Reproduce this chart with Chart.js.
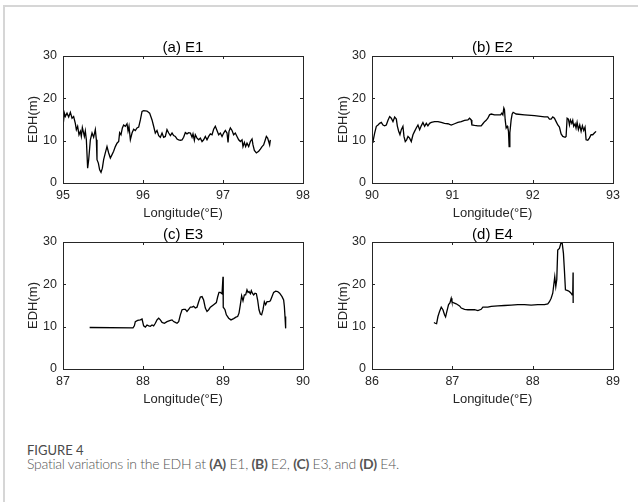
<!DOCTYPE html>
<html>
<head>
<meta charset="utf-8">
<script src="https://cdn.jsdelivr.net/npm/chart.js@4.4.1/dist/chart.umd.min.js"></script>
<style>
  body { margin: 0; background: #fff; width: 638px; height: 502px; overflow: hidden; position: relative; }
  .frame { position: absolute; left: 3px; top: 5px; right: 0; bottom: 0; border-top: 2px solid #d6d6d6; border-left: 2px solid #d6d6d6; }
  canvas { position: absolute; }
  .cap1 { position: absolute; left: 27px; top: 443px; font: 400 13px/14px Lato, sans-serif; color: #4a4a4a; white-space: nowrap; }
  .cap2 { position: absolute; left: 27px; top: 455px; font: 300 14px/18px Lato, sans-serif; letter-spacing: -0.27px; color: #555; white-space: nowrap; }
  .cap2 b { font-weight: 700; }
</style>
</head>
<body>
<div class="frame"></div>
<canvas id="pa" width="318" height="225" style="left:0;top:0"></canvas>
<canvas id="pb" width="320" height="225" style="left:318px;top:0"></canvas>
<canvas id="pc" width="318" height="190" style="left:0;top:225px"></canvas>
<canvas id="pd" width="320" height="190" style="left:318px;top:225px"></canvas>
<div class="cap1">FIGURE 4</div>
<div class="cap2">Spatial variations in the EDH at <b>(A)</b> E1, <b>(B)</b> E2, <b>(C)</b> E3, and <b>(D)</b> E4.</div>
<script>
// EDH (m) along each route
const e1Lon = [95.000,95.017,95.029,95.050,95.071,95.092,95.113,95.133,95.154,95.167,
  95.183,95.200,95.217,95.229,95.242,95.258,95.267,95.279,95.292,95.308,
  95.321,95.342,95.363,95.383,95.404,95.417,95.425,95.442,95.458,95.475,
  95.492,95.508,95.529,95.550,95.571,95.592,95.613,95.633,95.654,95.675,
  95.696,95.708,95.725,95.742,95.758,95.779,95.800,95.813,95.825,95.842,
  95.863,95.883,95.904,95.925,95.946,95.967,95.988,96.008,96.050,96.083,
  96.113,96.133,96.154,96.175,96.196,96.217,96.238,96.258,96.279,96.300,
  96.321,96.342,96.363,96.383,96.404,96.425,96.446,96.467,96.488,96.508,
  96.529,96.550,96.571,96.592,96.613,96.625,96.642,96.654,96.675,96.696,
  96.717,96.738,96.758,96.779,96.800,96.821,96.842,96.863,96.883,96.904,
  96.925,96.946,96.967,96.988,97.008,97.029,97.050,97.063,97.075,97.092,
  97.113,97.133,97.154,97.175,97.196,97.217,97.238,97.250,97.267,97.283,
  97.300,97.321,97.342,97.363,97.375,97.392,97.417,97.446,97.467,97.488,
  97.508,97.529,97.542,97.558,97.571,97.583,97.592];
const e1Edh = [13.4,16.5,15.7,16.5,15.6,16.7,15.3,15.7,14.1,12.6,
  13.4,11.4,12.2,11.0,13.1,11.8,11.0,12.3,10.2,3.5,
  5.5,10.2,11.8,10.8,12.6,10.2,5.5,4.7,3.1,2.5,
  3.5,5.5,7.1,8.6,7.1,5.9,6.7,7.5,8.6,9.4,
  9.8,11.9,11.4,13.0,13.7,13.4,14.0,12.3,13.4,10.2,
  11.8,12.7,12.4,13.0,13.2,14.9,16.9,17.1,17.0,16.5,
  14.9,13.4,11.8,12.4,11.2,10.8,11.8,10.8,11.0,12.6,
  11.8,11.2,11.8,11.2,11.0,10.4,10.2,10.1,10.2,10.8,
  11.9,11.6,11.9,11.8,10.8,11.6,10.1,11.4,10.6,10.2,
  10.6,9.8,10.2,11.0,10.2,11.0,11.6,11.4,12.7,13.4,
  12.4,11.4,11.8,11.0,11.8,12.4,11.8,9.6,12.2,13.0,
  12.4,11.4,11.8,11.0,10.2,9.8,10.2,8.6,9.6,8.6,
  9.4,8.6,9.8,10.4,9.0,7.7,7.1,7.5,8.0,8.6,
  9.0,10.2,11.0,10.6,9.8,9.0,10.2];

const e2Lon = [90.000,90.012,90.033,90.054,90.075,90.095,90.116,90.137,90.157,90.178,
  90.199,90.220,90.240,90.261,90.282,90.303,90.315,90.332,90.348,90.365,
  90.385,90.398,90.414,90.431,90.448,90.468,90.489,90.510,90.530,90.551,
  90.572,90.593,90.613,90.634,90.655,90.676,90.696,90.717,90.738,90.779,
  90.821,90.862,90.903,90.945,90.986,91.028,91.069,91.111,91.152,91.194,
  91.214,91.235,91.243,91.276,91.318,91.359,91.380,91.401,91.421,91.442,
  91.463,91.484,91.525,91.567,91.600,91.616,91.629,91.641,91.649,91.658,
  91.670,91.683,91.691,91.699,91.707,91.716,91.732,91.745,91.757,91.794,
  91.898,92.022,92.147,92.188,92.209,92.230,92.250,92.271,92.292,92.313,
  92.333,92.354,92.375,92.404,92.416,92.429,92.445,92.458,92.470,92.487,
  92.499,92.511,92.528,92.540,92.553,92.569,92.586,92.603,92.619,92.636,
  92.652,92.665,92.686,92.706,92.727,92.748,92.768,92.789];
const e2Edh = [9.6,9.8,11.8,13.4,13.7,14.1,14.3,13.7,13.5,13.7,
  14.8,15.7,15.3,14.5,15.6,15.1,13.5,12.2,11.4,12.6,
  13.4,11.0,9.8,10.2,11.0,10.6,9.8,11.4,12.2,13.0,
  13.7,12.6,13.5,14.3,13.4,14.1,13.5,14.1,14.3,14.5,
  14.5,14.3,14.1,14.0,13.7,14.0,14.3,14.5,14.8,14.9,
  15.3,14.9,13.7,13.6,13.5,13.5,14.0,14.5,14.8,15.3,
  16.1,16.3,16.1,16.1,16.1,16.5,16.1,17.7,17.3,14.9,
  13.0,13.4,13.0,12.2,8.6,11.8,14.9,16.3,16.7,16.3,
  16.1,15.9,15.6,15.6,15.1,15.1,15.6,15.3,14.5,13.7,
  13.2,11.6,11.0,10.8,11.0,15.3,15.1,13.7,14.9,14.1,
  14.8,13.4,14.0,13.0,14.3,12.6,13.7,12.2,13.5,12.4,
  13.2,10.2,10.1,10.6,11.4,11.4,11.8,12.2];

const e3Lon = [87.333,87.875,87.892,87.904,87.933,87.967,87.988,88.008,88.029,88.050,
  88.071,88.092,88.113,88.133,88.154,88.175,88.196,88.217,88.238,88.267,
  88.300,88.342,88.363,88.383,88.404,88.425,88.446,88.467,88.488,88.508,
  88.529,88.550,88.571,88.592,88.613,88.633,88.654,88.675,88.696,88.717,
  88.738,88.758,88.779,88.800,88.821,88.842,88.883,88.917,88.933,88.950,
  88.967,88.988,89.000,89.003,89.025,89.042,89.071,89.100,89.133,89.167,
  89.183,89.200,89.217,89.233,89.250,89.267,89.283,89.300,89.313,89.325,
  89.342,89.354,89.367,89.383,89.400,89.417,89.433,89.450,89.467,89.483,
  89.500,89.517,89.533,89.550,89.575,89.592,89.613,89.633,89.658,89.683,
  89.708,89.738,89.758,89.767,89.775,89.783];
const e3Edh = [9.8,9.7,10.2,11.2,11.5,11.6,11.8,10.2,9.9,10.4,
  10.2,10.1,10.4,10.2,10.8,11.6,12.0,11.6,11.0,10.8,
  11.2,11.5,11.6,11.2,11.0,10.8,11.2,12.8,14.0,14.1,
  14.1,13.6,14.1,14.6,14.6,14.8,14.4,14.6,15.9,17.0,
  17.1,16.3,14.4,13.6,14.0,14.6,15.2,15.7,17.0,18.1,
  18.1,17.8,21.8,14.6,14.0,12.8,12.0,11.6,11.9,12.3,
  12.4,13.2,15.2,17.3,16.1,17.5,17.5,18.7,18.1,18.3,
  17.8,18.5,17.9,17.5,17.9,17.8,16.3,14.0,13.0,12.8,
  14.0,15.9,15.2,15.9,15.9,16.1,17.1,18.1,18.4,18.3,
  17.9,17.1,16.3,14.8,12.4,9.6];

const e4Lon = [86.771,86.787,86.804,86.821,86.841,86.862,86.883,86.903,86.916,86.932,
  86.953,86.970,86.986,86.995,87.019,87.048,87.090,87.111,87.152,87.194,
  87.235,87.276,87.318,87.359,87.380,87.401,87.442,87.484,87.567,87.649,
  87.732,87.815,87.898,87.981,88.064,88.147,88.188,88.209,88.230,88.250,
  88.263,88.275,88.288,88.300,88.312,88.333,88.354,88.366,88.383,88.395,
  88.408,88.437,88.457,88.478,88.491,88.499,88.503,88.504];
const e4Edh = [11.0,10.8,10.7,12.4,13.6,14.6,14.0,12.8,12.3,13.6,
  15.2,15.6,16.7,15.9,15.6,15.4,14.9,14.4,14.1,14.0,
  14.0,14.0,13.8,14.1,14.6,14.6,14.6,14.8,14.9,15.0,
  15.1,15.2,15.2,15.1,15.2,15.2,15.4,15.9,16.7,17.9,
  19.9,21.8,19.5,21.1,28.1,28.5,29.9,30.0,27.3,23.4,
  18.7,18.5,18.3,17.9,17.5,17.9,22.8,15.6];

const panelTitles = ['(a) E1', '(b) E2', '(c) E3', '(d) E4'];
const xRanges = [[95, 98], [90, 93], [87, 90], [86, 89]];
const yRange = [0, 30];
const xLabel = 'Longitude(°E)';
const yLabel = 'EDH(m)';

const ink = '#262626';
const tickFont = { family: 'Liberation Sans', size: 12.5 };
const labelFont = { family: 'Liberation Sans', size: 13 };

// MATLAB style box with inward ticks on all four sides
const boxTicks = {
  id: 'boxTicks',
  afterDraw(chart) {
    const { ctx, chartArea: a, scales: { x, y } } = chart;
    const L = 3;
    ctx.save();
    ctx.strokeStyle = ink;
    ctx.lineWidth = 1;
    ctx.strokeRect(Math.round(a.left) + 0.5, Math.round(a.top) + 0.5,
      Math.round(a.right - a.left), Math.round(a.bottom - a.top));
    ctx.beginPath();
    x.ticks.forEach(t => {
      const px = Math.round(x.getPixelForValue(t.value)) + 0.5;
      ctx.moveTo(px, a.bottom); ctx.lineTo(px, a.bottom - L);
      ctx.moveTo(px, a.top); ctx.lineTo(px, a.top + L);
    });
    y.ticks.forEach(t => {
      const py = Math.round(y.getPixelForValue(t.value)) + 0.5;
      ctx.moveTo(a.left, py); ctx.lineTo(a.left + L, py);
      ctx.moveTo(a.right, py); ctx.lineTo(a.right - L, py);
    });
    ctx.stroke();
    ctx.restore();
  }
};

// area = chart area inside the canvas; tc, yc, xc = centres of title, y label, x label
function makePanel(id, idx, lon, edh, w, h, area, tc, yc, xc) {
  const pts = lon.map((v, i) => ({ x: v, y: edh[i] }));
  new Chart(document.getElementById(id), {
    type: 'line',
    data: {
      datasets: [{
        data: pts,
        borderColor: '#000',
        borderWidth: 1.3,
        pointRadius: 0,
        fill: false,
        tension: 0
      }]
    },
    options: {
      responsive: false,
      animation: false,
      layout: { padding: { left: 0, right: w - area.r, top: 0, bottom: 0 } },
      plugins: {
        legend: { display: false },
        tooltip: { enabled: false },
        title: {
          display: true,
          fullSize: false,
          text: panelTitles[idx],
          color: '#000',
          font: { family: 'Liberation Sans', size: 15, weight: 'normal', lineHeight: 1 },
          padding: { top: tc - 7.5, bottom: area.t - (tc - 7.5) - 15 }
        }
      },
      scales: {
        x: {
          type: 'linear',
          min: xRanges[idx][0],
          max: xRanges[idx][1],
          ticks: { stepSize: 1, color: ink, font: tickFont, padding: 5 },
          grid: { display: false, drawTicks: false, tickLength: 0 },
          border: { display: false },
          title: { display: true, text: xLabel, color: ink, font: labelFont,
                   padding: { top: 0, bottom: h - xc - 7.8 } },
          afterFit: s => { s.height = h - area.b; }
        },
        y: {
          min: yRange[0],
          max: yRange[1],
          ticks: { stepSize: 10, color: ink, font: tickFont, padding: 6 },
          grid: { display: false, drawTicks: false, tickLength: 0 },
          border: { display: false },
          title: { display: true, text: yLabel, color: ink, font: labelFont,
                   padding: { top: yc - 7.8, bottom: 0 } },
          afterFit: s => { s.width = area.l; }
        }
      }
    },
    plugins: [boxTicks]
  });
}

makePanel('pa', 0, e1Lon, e1Edh, 318, 225, { l: 63, r: 303, t: 56, b: 183 }, 47.5, 33, 213.5);
makePanel('pb', 1, e2Lon, e2Edh, 320, 225, { l: 54, r: 295, t: 56, b: 183 }, 47.5, 25, 213.5);
makePanel('pc', 2, e3Lon, e3Edh, 318, 190, { l: 63, r: 303, t: 17, b: 144 }, 10, 33, 174);
makePanel('pd', 3, e4Lon, e4Edh, 320, 190, { l: 54, r: 295, t: 17, b: 144 }, 10, 25, 174);
</script>
</body>
</html>
